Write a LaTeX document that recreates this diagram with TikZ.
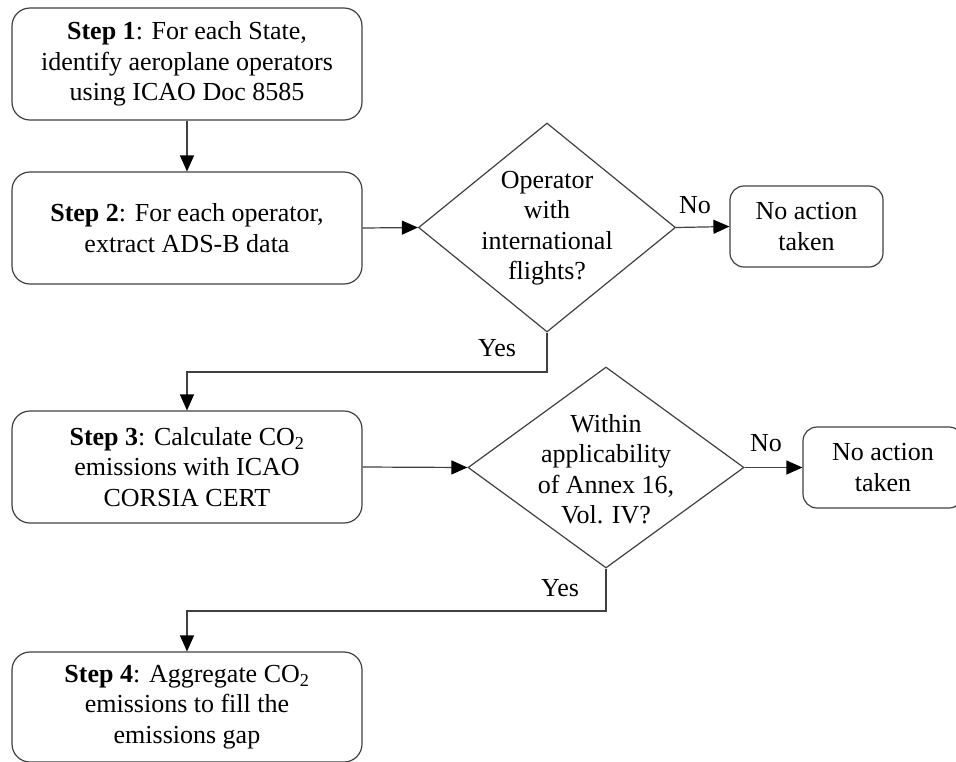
\documentclass[tikz,border=0pt]{standalone}
\usepackage{fontspec}
\setmainfont{Liberation Serif}
\usetikzlibrary{shapes.geometric,arrows.meta}
\definecolor{linec}{HTML}{404040}
\begin{document}
\begin{tikzpicture}[x=1pt,y=-1pt,
  every node/.style={font=\fontsize{26}{30.5}\selectfont, text=black},
  stepbox/.style={draw=linec, line width=1.2pt, rounded corners=18pt, minimum width=350pt, minimum height=112pt, inner sep=0pt, align=center},
  endbox/.style={draw=linec, line width=1.2pt, rounded corners=14pt, minimum height=81pt, inner sep=0pt, align=center},
  decision/.style={draw=linec, line width=1.2pt, diamond, inner sep=0pt},
  dtext/.style={align=center, inner sep=0pt},
  lbl/.style={inner sep=0pt},
  arr/.style={draw=linec, line width=1.2pt, -{Triangle[length=16pt,width=14pt, color=black]}},
  ln/.style={draw=linec, line width=1.2pt}
]
\useasboundingbox (0,0) rectangle (956,761);
\node[stepbox] (b1) at (187,64) {\textbf{Step 1}: For each State,\\identify aeroplane operators\\using ICAO Doc 8585};
\node[stepbox] (b2) at (187,228) {\textbf{Step 2}: For each operator,\\extract ADS-B data};
\node[stepbox] (b3) at (187,467) {\textbf{Step 3}: Calculate CO\textsubscript{2}\\emissions with ICAO\\CORSIA CERT};
\node[stepbox, minimum height=110pt] (b4) at (187,707) {\textbf{Step 4}: Aggregate CO\textsubscript{2}\\emissions to fill the\\emissions gap};

\node[decision, minimum width=257pt, minimum height=209pt] (d1) at (547,227.5) {};
\node[dtext] (t1) at (547,228) {Operator\\with\\international\\flights?};
\node[decision, minimum width=276pt, minimum height=201pt] (d2) at (606,467.5) {};
\node[dtext] (t2) at (606,469) {Within\\applicability\\of Annex 16,\\Vol. IV?};

\node[endbox, minimum width=153pt] (n1) at (806.5,226.5) {No action\\taken};
\node[endbox, minimum width=160pt] (n2) at (883,467.5) {No action\\taken};

\coordinate (c1) at (547,372);
\coordinate (c2) at (606,611);

\draw[arr] (b1.south) -- (b2.north);
\draw[arr] (b2.east) -- (d1.west);
\draw[arr] (d1.east) -- (n1.west);
\node[lbl] (no1) at (695,205) {No};
\draw[arr] (d1.south) -- (c1) -| (b3.north);
\node[lbl] (yes1) at (497,348) {Yes};
\draw[arr] (b3.east) -- (d2.west);
\draw[arr] (d2.east) -- (n2.west);
\node[lbl] (no2) at (766,443) {No};
\draw[arr] (d2.south) -- (c2) -| (b4.north);
\node[lbl] (yes2) at (560,588) {Yes};
\end{tikzpicture}
\end{document}
